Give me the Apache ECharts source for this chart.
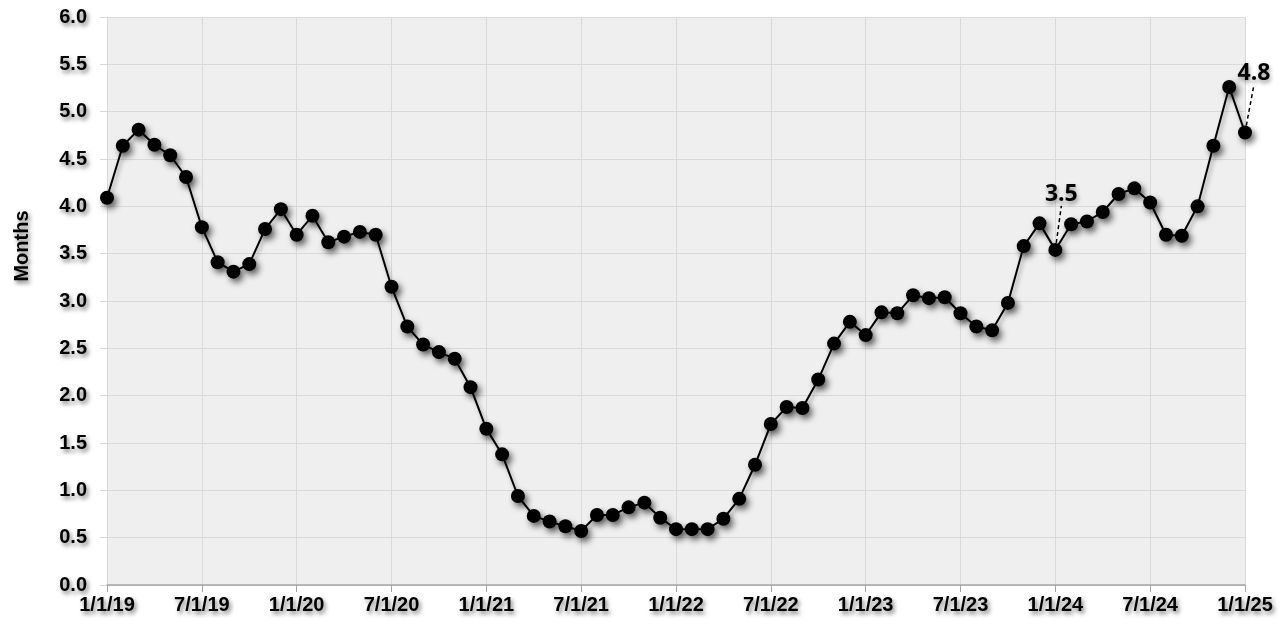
<!DOCTYPE html>
<html>
<head>
<meta charset="utf-8">
<script src="https://cdn.jsdelivr.net/npm/echarts@6/dist/echarts.min.js"></script>
<style>
  html, body { margin: 0; padding: 0; background: #fff; }
  #main { width: 1281px; height: 626px; }
</style>
</head>
<body>
<div id="main"></div>
<script>
const months = [
  '1/1/19', '2/1/19', '3/1/19', '4/1/19', '5/1/19', '6/1/19', '7/1/19', '8/1/19', '9/1/19', '10/1/19', '11/1/19', '12/1/19',
  '1/1/20', '2/1/20', '3/1/20', '4/1/20', '5/1/20', '6/1/20', '7/1/20', '8/1/20', '9/1/20', '10/1/20', '11/1/20', '12/1/20',
  '1/1/21', '2/1/21', '3/1/21', '4/1/21', '5/1/21', '6/1/21', '7/1/21', '8/1/21', '9/1/21', '10/1/21', '11/1/21', '12/1/21',
  '1/1/22', '2/1/22', '3/1/22', '4/1/22', '5/1/22', '6/1/22', '7/1/22', '8/1/22', '9/1/22', '10/1/22', '11/1/22', '12/1/22',
  '1/1/23', '2/1/23', '3/1/23', '4/1/23', '5/1/23', '6/1/23', '7/1/23', '8/1/23', '9/1/23', '10/1/23', '11/1/23', '12/1/23',
  '1/1/24', '2/1/24', '3/1/24', '4/1/24', '5/1/24', '6/1/24', '7/1/24', '8/1/24', '9/1/24', '10/1/24', '11/1/24', '12/1/24',
  '1/1/25'
];
// months of supply
const supply = [
  4.09, 4.64, 4.81, 4.65, 4.54, 4.31, 3.78, 3.41, 3.31, 3.39, 3.76, 3.97,
  3.70, 3.90, 3.62, 3.68, 3.73, 3.70, 3.15, 2.73, 2.54, 2.46, 2.39, 2.09,
  1.65, 1.38, 0.94, 0.73, 0.67, 0.62, 0.57, 0.74, 0.74, 0.82, 0.87, 0.71,
  0.59, 0.59, 0.59, 0.70, 0.91, 1.27, 1.70, 1.88, 1.87, 2.17, 2.55, 2.78,
  2.64, 2.88, 2.87, 3.06, 3.03, 3.04, 2.87, 2.73, 2.69, 2.98, 3.58, 3.82,
  3.54, 3.81, 3.84, 3.94, 4.13, 4.19, 4.04, 3.70, 3.69, 4.00, 4.64, 5.26,
  4.78
];
// annotated points: index -> text
const callouts = { 60: '3.5', 72: '4.8' };
const calloutShift = { 60: [6, -32], 72: [9, -36] };

const axisFont = {
  fontFamily: 'Liberation Sans, Arial, sans-serif',
  fontWeight: 'bold',
  fontSize: 20,
  color: '#000',
  textShadowColor: 'rgba(0,0,0,0.5)',
  textShadowBlur: 4,
  textShadowOffsetX: 2,
  textShadowOffsetY: 3
};

const seriesData = supply.map(function (v, i) {
  if (callouts[i]) {
    return {
      value: v,
      label: {
        show: true,
        position: 'top',
        distance: 5,
        formatter: callouts[i],
        fontFamily: 'Open Sans, Noto Sans, sans-serif',
        fontWeight: 'bold',
        fontSize: 23,
        color: '#000',
        textShadowColor: 'rgba(0,0,0,0.4)',
        textShadowBlur: 4,
        textShadowOffsetX: 1,
        textShadowOffsetY: 3
      },
      labelLine: {
        show: true,
        lineStyle: { color: '#000', width: 1.5, type: [4, 3] }
      }
    };
  }
  return v;
});

const chart = echarts.init(document.getElementById('main'));
chart.setOption({
  animation: false,
  backgroundColor: '#fff',
  grid: {
    left: 107,
    right: 36,
    top: 17,
    bottom: 41,
    show: true,
    backgroundColor: '#efefef',
    borderWidth: 0
  },
  graphic: [{
    type: 'text',
    x: 22,
    y: 246,
    rotation: Math.PI / 2,
    style: Object.assign({}, axisFont, {
      text: 'Months',
      textAlign: 'center',
      textVerticalAlign: 'middle'
    })
  }],
  xAxis: {
    type: 'category',
    data: months,
    boundaryGap: false,
    axisLine: { lineStyle: { color: '#a6a6a6', width: 1.5 } },
    axisTick: { interval: 5, length: 7, lineStyle: { color: '#a6a6a6' } },
    axisLabel: Object.assign({}, axisFont, {
      interval: 5,
      margin: 10,
      showMaxLabel: true
    }),
    splitLine: { show: true, interval: 5, lineStyle: { color: '#d9d9d9', width: 1 } }
  },
  yAxis: {
    type: 'value',
    min: 0,
    max: 6,
    interval: 0.5,
    axisLine: { show: true, lineStyle: { color: '#d9d9d9' } },
    axisTick: { show: true, length: 7, lineStyle: { color: '#d9d9d9' } },
    axisLabel: Object.assign({}, axisFont, {
      margin: 20,
      formatter: function (v) { return v.toFixed(1); }
    }),
    splitLine: { lineStyle: { color: '#d9d9d9', width: 1 } }
  },
  series: [{
    type: 'line',
    data: seriesData,
    symbol: 'circle',
    symbolSize: 14,
    showAllSymbol: true,
    lineStyle: {
      color: '#000',
      width: 2,
      shadowColor: 'rgba(0,0,0,0.35)',
      shadowBlur: 4,
      shadowOffsetX: 2,
      shadowOffsetY: 3
    },
    itemStyle: {
      color: '#000',
      borderWidth: 0,
      shadowColor: 'rgba(0,0,0,0.6)',
      shadowBlur: 6,
      shadowOffsetX: 3,
      shadowOffsetY: 4
    },
    labelLayout: function (params) {
      const s = calloutShift[params.dataIndex];
      if (s) return { dx: s[0], dy: s[1] };
    }
  }]
});
</script>
</body>
</html>
